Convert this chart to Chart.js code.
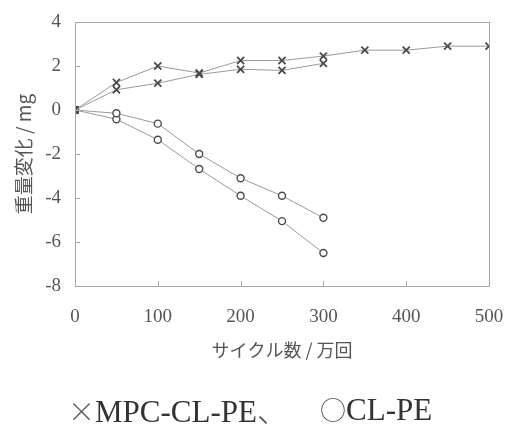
<!DOCTYPE html>
<html>
<head>
<meta charset="utf-8">
<script src="https://cdn.jsdelivr.net/npm/chart.js@4/dist/chart.umd.min.js"></script>
<style>
  html, body { margin: 0; padding: 0; background: #fff; }
  #wrap { position: relative; width: 507px; height: 433px; overflow: hidden; }
  .cap {
    position: absolute; top: 391px; white-space: nowrap;
    font-family: "Liberation Serif", serif;
    font-size: 31px; color: #333; line-height: 36px;
  }
  .sym { font-family: "Noto Sans CJK JP", sans-serif; font-weight: 300; color: #555; }
</style>
</head>
<body>
<div id="wrap">
  <canvas id="grafico" width="507" height="433"></canvas>
  <div class="cap" style="left:68px"><span class="sym" style="font-size:27px">×</span>MPC-CL-PE<span class="sym">、</span></div>
  <div class="cap" style="left:320px"><span class="sym" style="font-size:26px">○</span>CL-PE</div>
</div>
<script>
// ==========================
// Dados
// ==========================
const ciclos = [0, 50, 100, 150, 200, 250, 300, 350, 400, 450, 500];
const ciclosCurto = [0, 50, 100, 150, 200, 250, 300];

const mpcA = [0, 1.25, 2.0, 1.68, 2.25, 2.25, 2.45, 2.72, 2.72, 2.9, 2.9];
const mpcB = [0, 0.92, 1.22, 1.62, 1.85, 1.8, 2.12];
const clA = [0, -0.15, -0.62, -2.0, -3.1, -3.9, -4.9];
const clB = [0, -0.42, -1.35, -2.68, -3.9, -5.05, -6.5];

const ticksX = [0, 100, 200, 300, 400, 500];
const ticksY = [-8, -6, -4, -2, 0, 2, 4];

const tituloY = "重量変化 / mg";
const tituloX = "サイクル数 / 万回";

const pares = (xs, ys) => ys.map((y, i) => ({ x: xs[i], y }));

const corLinha = "#9a9a9a";
const corMarca = "#4a4a4a";
const corEixo = "#a8a8a8";
const corTexto = "#555";

function serie(xs, ys, estilo) {
  return {
    data: pares(xs, ys),
    borderColor: corLinha,
    borderWidth: 1,
    pointStyle: estilo,
    pointRadius: estilo === "crossRot" ? 5 : 3.5,
    pointBorderWidth: estilo === "crossRot" ? 1.8 : 1.4,
    pointBorderColor: corMarca,
    pointBackgroundColor: "#fff",
    tension: 0,
  };
}

// moldura + marcas internas
const moldura = {
  id: "moldura",
  afterDraw(chart) {
    const { ctx, chartArea: a, scales } = chart;
    ctx.save();
    ctx.strokeStyle = corEixo;
    ctx.lineWidth = 1;
    ctx.strokeRect(a.left + 0.5, a.top + 0.5, a.right - a.left, a.bottom - a.top);
    ctx.beginPath();
    ticksX.forEach((v) => {
      const px = Math.round(scales.x.getPixelForValue(v)) + 0.5;
      ctx.moveTo(px, a.bottom);
      ctx.lineTo(px, a.bottom - 5);
    });
    ticksY.forEach((v) => {
      const py = Math.round(scales.y.getPixelForValue(v)) + 0.5;
      ctx.moveTo(a.left, py);
      ctx.lineTo(a.left + 5, py);
    });
    ctx.stroke();
    ctx.restore();
  },
};

const fonteNum = { family: "'Liberation Serif', serif", size: 19 };
const fonteJp = { family: "'Noto Sans CJK JP', sans-serif", size: 19 };

new Chart(document.getElementById("grafico"), {
  type: "line",
  data: {
    datasets: [
      serie(ciclos, mpcA, "crossRot"),
      serie(ciclosCurto, mpcB, "crossRot"),
      serie(ciclosCurto, clA, "circle"),
      serie(ciclosCurto, clB, "circle"),
    ],
  },
  options: {
    responsive: false,
    animation: false,
    layout: { padding: { left: 12, right: 18, top: 22, bottom: 68 } },
    plugins: { legend: { display: false }, tooltip: { enabled: false } },
    scales: {
      x: {
        type: "linear",
        min: 0,
        max: 500,
        afterBuildTicks: (s) => { s.ticks = ticksX.map((v) => ({ value: v })); },
        afterFit: (s) => { s.height = 79; },
        grid: { display: false, drawTicks: true, tickLength: 18 },
        border: { display: false },
        ticks: { color: corTexto, font: fonteNum, padding: 2 },
        title: { display: true, text: tituloX, color: corTexto, font: { ...fonteJp, size: 18 }, padding: { top: 0, bottom: 4 } },
      },
      y: {
        min: -8,
        max: 4,
        afterBuildTicks: (s) => { s.ticks = ticksY.map((v) => ({ value: v })); },
        afterFit: (s) => { s.width = 63; },
        grid: { display: false, drawTicks: true, tickLength: 12 },
        border: { display: false },
        ticks: { color: corTexto, font: fonteNum, padding: 2 },
        title: { display: true, text: tituloY, color: corTexto, font: fonteJp, padding: { top: 0, bottom: 0 } },
      },
    },
  },
  plugins: [moldura],
});
</script>
</body>
</html>
